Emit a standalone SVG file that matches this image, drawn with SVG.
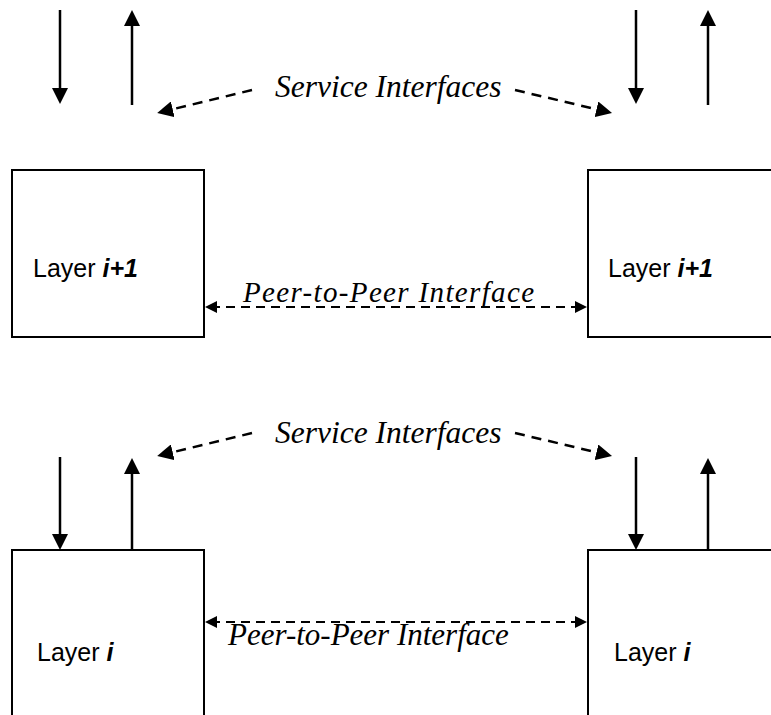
<svg xmlns="http://www.w3.org/2000/svg" width="771" height="715" viewBox="0 0 771 715">
<style>
.box{fill:#fff;stroke:#000;stroke-width:2}
.lbl{font-family:"Liberation Sans",Arial,sans-serif;font-size:25px;fill:#000}
.bi{font-weight:bold;font-style:italic}
.it{font-family:"Liberation Serif","Times New Roman",serif;font-style:italic;fill:#000}
.solid{stroke:#000;stroke-width:2.5;fill:none;marker-end:url(#a)}
.dash{stroke:#000;stroke-width:2.5;fill:none;stroke-dasharray:10,7;marker-end:url(#a)}
.peer{stroke:#000;stroke-width:2.2;fill:none;stroke-dasharray:9,6;marker-end:url(#p);marker-start:url(#p)}
</style>
<defs>
<marker id="a" markerWidth="16" markerHeight="16" refX="10" refY="8" orient="auto" markerUnits="userSpaceOnUse"><path d="M0,0 L16,8 L0,16 Z" fill="#000"/></marker>
<marker id="p" markerWidth="12" markerHeight="12" refX="6" refY="6" orient="auto-start-reverse" markerUnits="userSpaceOnUse"><path d="M0,0 L12,6 L0,12 Z" fill="#000"/></marker>
</defs>
<rect width="771" height="715" fill="#fff"/>
<g id="layer-i1-left"><rect class="box" x="12" y="170" width="192" height="167"/><text class="lbl" x="33" y="277">Layer <tspan class="bi">i+1</tspan></text></g>
<g id="layer-i1-right"><rect class="box" x="588" y="170" width="200" height="167"/><text class="lbl" x="608" y="277">Layer <tspan class="bi">i+1</tspan></text></g>
<g id="layer-i-left"><rect class="box" x="12" y="550" width="192" height="180"/><text class="lbl" x="37" y="661" font-size="24">Layer <tspan class="bi">i</tspan></text></g>
<g id="layer-i-right"><rect class="box" x="588" y="550" width="200" height="180"/><text class="lbl" x="614" y="661" font-size="24">Layer <tspan class="bi">i</tspan></text></g>
<g id="labels">
<text class="it" x="275" y="97" font-size="31.5">Service Interfaces</text>
<text class="it" x="275" y="443" font-size="31.5">Service Interfaces</text>
<text class="it" x="243" y="302" font-size="29" textLength="291" lengthAdjust="spacing">Peer-to-Peer Interface</text>
<text class="it" x="228" y="645" font-size="31">Peer-to-Peer Interface</text>
</g>
<g id="connectors">
<line class="solid" x1="60" y1="10" x2="60" y2="98"/>
<line class="solid" x1="132" y1="105" x2="132" y2="16"/>
<line class="solid" x1="636" y1="10" x2="636" y2="98"/>
<line class="solid" x1="708" y1="105" x2="708" y2="16"/>
<line class="solid" x1="60" y1="457" x2="60" y2="544"/>
<line class="solid" x1="132" y1="550" x2="132" y2="464"/>
<line class="solid" x1="636" y1="457" x2="636" y2="544"/>
<line class="solid" x1="708" y1="550" x2="708" y2="464"/>
<line class="dash" x1="252" y1="90" x2="163" y2="111.6"/>
<line class="dash" x1="515" y1="90" x2="606.2" y2="111.6"/>
<line class="dash" x1="252" y1="433" x2="163" y2="454.6"/>
<line class="dash" x1="515" y1="433" x2="606.2" y2="454.6"/>
<line class="peer" x1="211" y1="307" x2="581" y2="307"/>
<line class="peer" x1="211" y1="622" x2="581" y2="622"/>
</g>
</svg>
